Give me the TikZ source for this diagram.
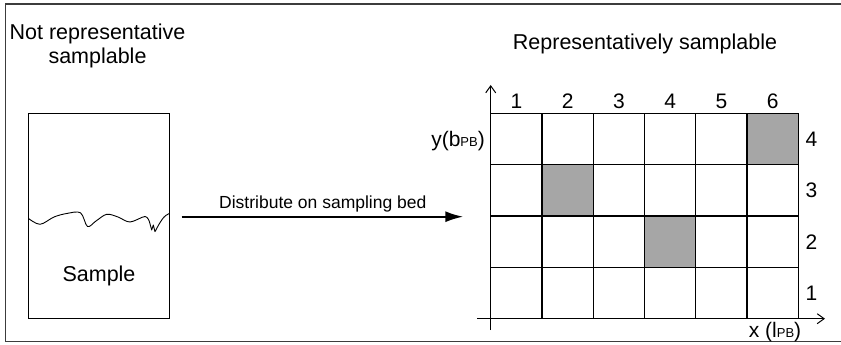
\documentclass[tikz,border=0pt]{standalone}
\usepackage{fontspec}
\setmainfont{Liberation Sans}
\usetikzlibrary{arrows.meta}

\definecolor{cellgray}{RGB}{166,166,166}
\definecolor{framegray}{RGB}{60,60,60}

\newcommand{\subPB}{{\fontsize{13}{14}\selectfont PB}}

\tikzset{
  titletext/.style={inner sep=0pt, font=\fontsize{21.5}{24}\selectfont, align=center},
  labeltext/.style={inner sep=0pt, font=\fontsize{21}{24}\selectfont},
  arrowtext/.style={inner sep=0pt, font=\fontsize{17.5}{20}\selectfont},
  cell/.style={draw, line width=1.3pt, minimum width=51.27pt, minimum height=51.35pt,
               inner sep=0pt, outer sep=0pt, anchor=north west},
  filledcell/.style={cell, fill=cellgray},
  samplebox/.style={draw, line width=1pt, minimum width=141pt, minimum height=205pt,
                    inner sep=0pt, outer sep=0pt},
  axis/.style={line width=1pt, -{Straight Barb[length=7pt,width=10pt]}},
  mainarrow/.style={line width=2pt, -{Latex[length=18pt,width=11pt]}},
}

\begin{document}
\begin{tikzpicture}[x=1pt, y=-1pt]
  \useasboundingbox (0,0) rectangle (841,345);

  % outer frame, open to the right
  \draw[framegray, line width=1.4pt] (842,4) -- (5.5,4) -- (5.5,341.5) -- (842,341.5);

  % titles
  \node[titletext, anchor=north] (lefttitle) at (97.5,24) {Not representative\\samplable};
  \node[titletext, anchor=base] (righttitle) at (645,50) {Representatively samplable};

  % sample container with its surface line
  \node[samplebox] (sample) at (98.8,215.8) {};
  \node[titletext, anchor=center] (samplelabel) at (99,276) {Sample};
  \draw[line width=0.9pt, line join=round]
    plot[smooth, tension=0.55] coordinates {
      (28.3,218.3) (40,224.3) (54,217) (66.7,213.5) (80.5,212.8) (87.5,226.5)
      (96,221) (106.7,214.3) (118,217) (130,222) (145,216.5) (149.5,222)}
    -- (151.7,230) -- (153.3,225) -- (155,231.7)
    .. controls (160,222) and (164,215) .. (169.3,213.5);

  % sampling bed: 6 columns x 4 rows of cells
  \foreach \c in {1,...,6} {
    \foreach \r in {1,...,4} {
      \node[cell] (c-\c-\r) at ({490.7+(\c-1)*51.27},{318.7-\r*51.35}) {};
    }
  }
  % sampled cells
  \node[filledcell] (c-6-4f) at ({490.7+5*51.27},{318.7-4*51.35}) {};
  \node[filledcell] (c-2-3f) at ({490.7+1*51.27},{318.7-3*51.35}) {};
  \node[filledcell] (c-4-2f) at ({490.7+3*51.27},{318.7-2*51.35}) {};

  % column and row numbers
  \foreach \c in {1,...,6} {
    \node[labeltext, anchor=base] (col\c) at ({490.7+(\c-0.5)*51.27},108.3) {\c};
  }
  \foreach \r in {1,...,4} {
    \node[labeltext, anchor=center] (row\r) at (811.5,{318.7-(\r-0.5)*51.35}) {\r};
  }

  % axes
  \coordinate (ybot) at (490.7,330);
  \coordinate (ytop) at (490.7,85);
  \coordinate (xleft) at (477,318.7);
  \coordinate (xright) at (825,318.7);
  \draw[axis] (ybot) -- (ytop);
  \draw[axis] (xleft) -- (xright);
  \node[labeltext, anchor=east] (ylabel) at (485,141) {y(b\subPB)};
  \node[labeltext, anchor=center] (xlabel) at (775,332) {x (l\subPB)};

  % distribution arrow
  \draw[mainarrow, shorten <=12.4pt, shorten >=27.4pt] (sample.east |- 0,216.7) coordinate (arrowstart) -- (c-1-3.west |- 0,216.7) coordinate (arrowend);
  \node[arrowtext, anchor=base] (arrowlabel) at (322.8,208.3) {Distribute on sampling bed};
\end{tikzpicture}
\end{document}
